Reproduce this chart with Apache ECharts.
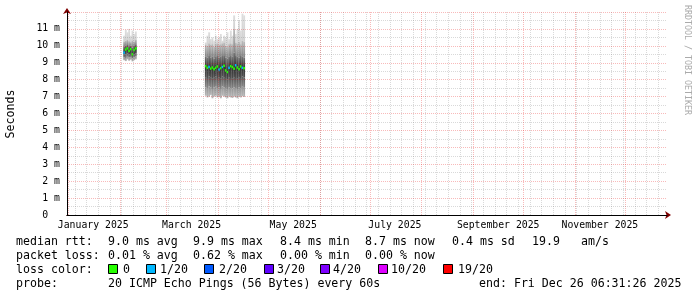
<!DOCTYPE html>
<html><head><meta charset="utf-8">
<script src="https://cdn.jsdelivr.net/npm/echarts@6/dist/echarts.min.js"></script>
<style>html,body{margin:0;padding:0;background:#fff}#c{width:697px;height:297px}</style>
</head><body><div id="c"></div>
<script>
// ---------- data ----------
const endTime = [2025, 12, 26, 6, 31, 26];
const spanDays = 360;
const tickLabels = ['January 2025', 'March 2025', 'May 2025', 'July 2025', 'September 2025', 'November 2025'];
const labelDates = ['2025-01-16', '2025-03-16', '2025-05-16', '2025-07-16', '2025-09-16', '2025-11-16'];
const monthStarts = ['2025-01-01','2025-02-01','2025-03-01','2025-04-01','2025-05-01','2025-06-01','2025-07-01','2025-08-01','2025-09-01','2025-10-01','2025-11-01','2025-12-01'];
const weekStarts = ['2025-01-05','2025-01-12','2025-01-19','2025-01-26','2025-02-02','2025-02-09','2025-02-16','2025-02-23','2025-03-02','2025-03-09','2025-03-16','2025-03-23','2025-03-30','2025-04-06','2025-04-13','2025-04-20','2025-04-27','2025-05-04','2025-05-11','2025-05-18','2025-05-25','2025-06-01','2025-06-08','2025-06-15','2025-06-22','2025-06-29','2025-07-06','2025-07-13','2025-07-20','2025-07-27','2025-08-03','2025-08-10','2025-08-17','2025-08-24','2025-08-31','2025-09-07','2025-09-14','2025-09-21','2025-09-28','2025-10-05','2025-10-12','2025-10-19','2025-10-26','2025-11-02','2025-11-09','2025-11-16','2025-11-23','2025-11-30','2025-12-07','2025-12-14','2025-12-21'];
const yTicks = [0,1,2,3,4,5,6,7,8,9,10,11,12];

// daily buckets (ms)
const bucketDates = ['2025-02-03','2025-02-04','2025-02-05','2025-02-06','2025-02-07','2025-02-08','2025-02-09','2025-02-10',
  '2025-03-24','2025-03-25','2025-03-26','2025-03-27','2025-03-28','2025-03-29','2025-03-30','2025-03-31',
  '2025-04-01','2025-04-02','2025-04-03','2025-04-04','2025-04-05','2025-04-06','2025-04-07','2025-04-08',
  '2025-04-09','2025-04-10','2025-04-11','2025-04-12','2025-04-13','2025-04-14','2025-04-15','2025-04-16'];
const rttMin = [9.15,9.10,9.20,9.12,9.18,9.08,9.15,9.20,
  7.05,6.95,7.00,7.10,6.90,7.00,7.05,6.95,7.00,6.90,7.05,7.00,6.95,6.90,7.00,6.95,6.92,7.00,6.95,6.90,7.00,6.95,7.02,6.98];
const rttP10 = [9.30,9.28,9.35,9.30,9.33,9.25,9.32,9.36,
  7.55,7.50,7.60,7.55,7.45,7.55,7.60,7.50,7.55,7.45,7.60,7.55,7.50,7.45,7.55,7.50,7.48,7.55,7.50,7.45,7.55,7.50,7.58,7.52];
const rttP25 = [9.48,9.50,9.55,9.48,9.52,9.40,9.50,9.55,
  8.15,8.10,8.20,8.15,8.05,8.15,8.20,8.10,8.15,8.05,8.20,8.15,8.10,8.00,8.15,8.10,8.05,8.15,8.10,8.05,8.15,8.10,8.18,8.12];
const rttMedian = [9.60,9.78,9.85,9.70,9.80,9.50,9.75,9.85,
  8.80,8.70,8.75,8.65,8.72,8.62,8.70,8.78,8.60,8.68,8.75,8.82,8.55,8.45,8.70,8.80,8.75,8.65,8.85,8.72,8.62,8.78,8.70,8.68];
const rttP75 = [9.95,10.00,10.05,9.98,10.02,9.90,10.00,10.05,
  9.35,9.30,9.40,9.30,9.35,9.25,9.35,9.40,9.30,9.35,9.40,9.45,9.30,9.25,9.35,9.40,9.35,9.60,9.45,9.35,9.30,9.40,9.35,9.30];
const rttP90 = [10.25,10.30,10.35,10.28,10.22,10.32,10.25,10.35,
  10.05,10.00,10.15,10.05,10.10,9.95,10.10,10.15,10.05,10.10,10.15,10.20,10.00,9.95,10.10,10.15,10.10,11.00,10.20,10.15,10.25,10.10,10.30,10.25];
const rttMax = [10.60,10.95,10.80,11.00,10.60,10.90,10.70,10.85,
  10.20,10.60,10.80,10.40,10.50,10.30,10.60,10.40,10.50,10.70,10.30,10.60,10.50,10.80,10.40,10.90,10.60,11.80,10.70,11.00,11.50,10.90,11.90,11.80];
const lossCount = [1,0,0,0,0,0,0,0,
  0,0,1,0,0,0,0,0,1,0,1,0,0,0,1,0,0,0,1,0,0,0,1,0];

const lossLabels = ['0', '1/20', '2/20', '3/20', '4/20', '10/20', '19/20'];
const lossSteps = [0, 1, 2, 3, 4, 10, 19];
const lossColors = ['#26ff00', '#00b8ff', '#0059ff', '#5e00ff', '#7e00ff', '#dd00ff', '#ff0000'];

const rttStats = ['9.0 ms avg', '9.9 ms max', '8.4 ms min', '8.7 ms now', '0.4 ms sd', '19.9', 'am/s'];
const lossStats = ['0.01 % avg', '0.62 % max', '0.00 % min', '0.00 % now'];
const probeText = '20 ICMP Echo Pings (56 Bytes) every 60s';
const endText = 'end: Fri Dec 26 06:31:26 2025';

// ---------- helpers ----------
const DAY = 86400000;
const d = s => { const p = s.split('-').map(Number); return Date.UTC(p[0], p[1] - 1, p[2]); };
const tEnd = Date.UTC(endTime[0], endTime[1] - 1, endTime[2], endTime[3], endTime[4], endTime[5]);
const tStart = tEnd - spanDays * DAY;
const labelTs = labelDates.map(d);

const data = bucketDates.map((s, i) => [d(s), rttMin[i], rttP10[i], rttP25[i], rttMedian[i], rttP75[i], rttP90[i], rttMax[i], lossCount[i]]);

const grad = (c1, c2) => ({type: 'linear', x: 0, y: 0, x2: 0, y2: 1, colorStops: [{offset: 0, color: c1}, {offset: 1, color: c2}]});

function renderSmoke(params, api) {
  const t = api.value(0);
  const xa = api.coord([t, 0])[0];
  const xb = api.coord([t + DAY, 0])[0];
  const w = xb - xa + 0.2;
  const y = i => api.coord([t, api.value(i)])[1];
  const yMin = y(1), y10 = y(2), y25 = y(3), yMed = y(4), y75 = y(5), y90 = y(6), yMax = y(7);
  const loss = api.value(8);
  let li = 0;
  lossSteps.forEach((s, k) => { if (loss >= s) li = k; });
  const band = (top, bot, fill) => ({type: 'rect', shape: {x: xa, y: top, width: w, height: Math.max(bot - top, 0)}, style: {fill: fill}});
  return {type: 'group', children: [
    band(yMax, y90, grad('#dedede', '#d0d0d0')),
    band(y90, y75, grad('#bcbcbc', '#848484')),
    band(y75, yMed, grad('#767676', '#333333')),
    band(yMed, y25, grad('#333333', '#505050')),
    band(y25, y10, grad('#5a5a5a', '#868686')),
    band(y10, yMin, grad('#969696', '#b8b8b8')),
    {type: 'rect', shape: {x: xa, y: yMed - 1.25, width: w, height: 2.5}, style: {fill: lossColors[li]}}
  ]};
}

const mono = "'DejaVu Sans Mono', monospace";
const red = 'rgba(230,0,0,0.27)';
const grey = 'rgba(120,120,120,0.28)';

// legend graphics
const gx = [108, 193, 280, 365, 452, 532, 581];
const graphics = [];
const txt = (x, y, s, extra) => graphics.push(Object.assign({type: 'text', x: x, y: y, style: {text: s, font: '11.6px ' + mono, fill: '#000', verticalAlign: 'middle', align: 'left'}, silent: true}, extra || {}));
txt(16, 241.5, 'median rtt:');
rttStats.forEach((s, i) => txt(gx[i], 241.5, s));
txt(16, 255.5, 'packet loss:');
lossStats.forEach((s, i) => txt(gx[i], 255.5, s));
txt(16, 269.5, 'loss color:');
const boxX = [108, 146, 204, 264, 320, 378, 443];
const boxLabelX = [123, 160, 219, 277, 333, 391, 458];
lossLabels.forEach((s, i) => {
  graphics.push({type: 'rect', shape: {x: boxX[i] + 0.5, y: 264.5, width: 9, height: 9}, style: {fill: lossColors[i], stroke: '#000', lineWidth: 1}, silent: true});
  txt(boxLabelX[i], 269.5, s);
});
txt(16, 283.5, 'probe:');
txt(108, 283.5, probeText);
txt(479, 283.5, endText);
graphics.push({type: 'text', x: 11, y: 114, rotation: Math.PI / 2, style: {text: 'Seconds', font: '11.6px ' + mono, fill: '#000', align: 'center', verticalAlign: 'middle'}, silent: true});
graphics.push({type: 'text', x: 687, y: 5, rotation: -Math.PI / 2, style: {text: 'RRDTOOL / TOBI OETIKER', font: '8.3px ' + mono, fill: '#aaaaaa', align: 'left', verticalAlign: 'middle'}, silent: true});

const chart = echarts.init(document.getElementById('c'), null, {renderer: 'canvas'});
chart.setOption({
  animation: false,
  backgroundColor: '#ffffff',
  grid: {left: 67, top: 12, width: 600, height: 203, outerBoundsMode: 'none', containLabel: false},
  xAxis: [
    {
      type: 'value', min: tStart, max: tEnd, z: 6, scale: true,
      axisLine: {show: true, onZero: false, lineStyle: {color: '#000', width: 1}},
      axisTick: {show: false, customValues: monthStarts.map(d)},
      splitLine: {show: true, lineStyle: {color: red, width: 1, type: [1, 1]}},
      axisLabel: {
        show: true, customValues: labelTs, hideOverlap: false, margin: 5,
        color: '#000', fontFamily: mono, fontSize: 9.8,
        formatter: v => { const i = labelTs.indexOf(v); return i >= 0 ? tickLabels[i] : ''; }
      }
    },
    {
      type: 'value', min: tStart, max: tEnd, z: 5, position: 'bottom', scale: true,
      axisLine: {show: true, onZero: false, symbol: ['none', 'arrow'], symbolSize: [6, 6], symbolOffset: [0, 4], lineStyle: {color: '#7f0000', width: 1}},
      axisTick: {show: false, customValues: weekStarts.map(d)},
      splitLine: {show: true, lineStyle: {color: grey, width: 1, type: [1, 1]}},
      axisLabel: {show: false}
    }
  ],
  yAxis: [
    {
      type: 'value', min: 0, max: 12, interval: 1, z: 6,
      axisLine: {show: true, onZero: false, lineStyle: {color: '#000', width: 1}},
      axisTick: {show: false},
      splitLine: {show: true, lineStyle: {color: red, width: 1, type: [1, 1]}},
      minorTick: {show: false, splitNumber: 2},
      minorSplitLine: {show: true, lineStyle: {color: grey, width: 1, type: [1, 1]}},
      axisLabel: {
        color: '#000', fontFamily: mono, fontSize: 9.8, margin: 7,
        formatter: v => (v === yTicks[yTicks.length - 1] ? '' : (v === 0 ? '0\u00a0\u00a0' : v + ' m'))
      }
    },
    {
      type: 'value', min: 0, max: 12, interval: 1, z: 5, position: 'left',
      axisLine: {show: true, onZero: false, symbol: ['none', 'arrow'], symbolSize: [6, 6], symbolOffset: [0, 4], lineStyle: {color: '#7f0000', width: 1}},
      axisTick: {show: false}, splitLine: {show: false}, axisLabel: {show: false}
    }
  ],
  series: [{
    type: 'custom', xAxisIndex: 0, yAxisIndex: 0, z: 2, clip: true,
    renderItem: renderSmoke,
    encode: {x: 0, y: 4},
    data: data
  }],
  graphic: graphics
});
</script></body></html>
